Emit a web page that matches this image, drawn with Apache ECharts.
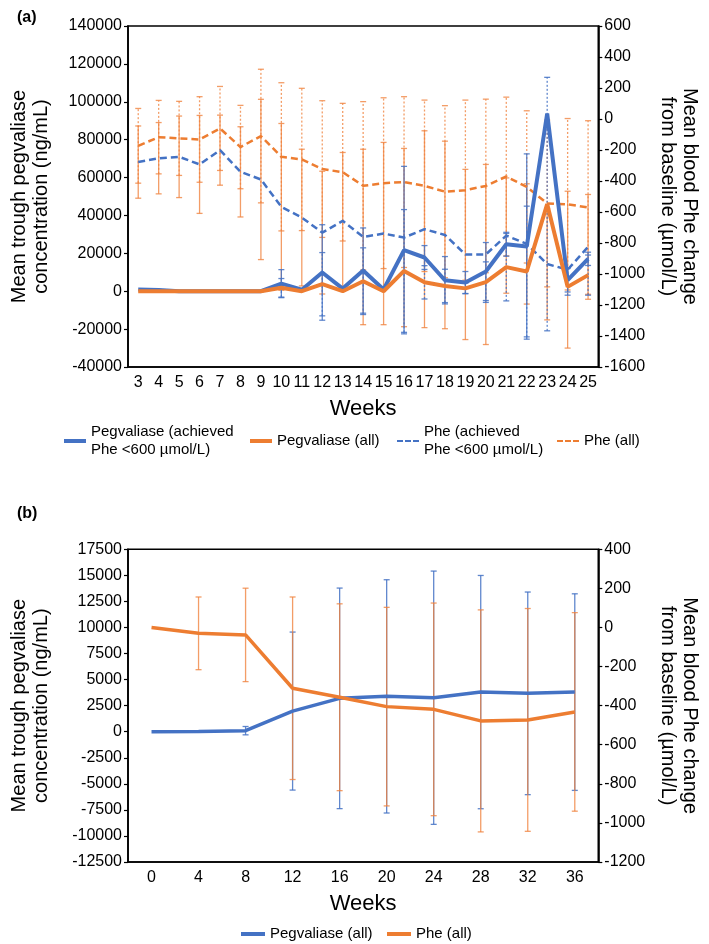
<!DOCTYPE html>
<html>
<head>
<meta charset="utf-8">
<script src="https://cdn.jsdelivr.net/npm/echarts/dist/echarts.min.js"></script>
<style>
  html, body { margin: 0; padding: 0; background: #fff; }
  #chart { width: 709px; height: 944px; }
</style>
</head>
<body>
<div id="chart"></div>
<script>
// ---------- Panel (a) data ----------
const weeksA = ['3','4','5','6','7','8','9','10','11','12','13','14','15','16','17','18','19','20','21','22','23','24','25'];
const pegAchievedA = [900, 700, 0, 0, 0, 0, 0, 4000, 800, 9900, 1400, 10900, 900, 21700, 17800, 5800, 4600, 10400, 24800, 23600, 93800, 5800, 17100];
const pegAllA      = [0, 0, 0, 0, 0, 0, 0, 1800, 0, 3700, 0, 5300, 0, 10700, 4700, 2800, 1500, 4800, 12700, 10400, 46000, 2300, 8500];
const pheAchievedA = [-278, -253, -244, -293, -201, -341, -390, -567, -636, -733, -657, -761, -739, -765, -711, -748, -874, -874, -752, -806, -936, -972, -825];
const pheAllA      = [-173, -117, -125, -132, -61, -181, -110, -244, -261, -323, -343, -431, -414, -407, -431, -469, -459, -432, -371, -438, -545, -550, -571];
// error amounts (SD) read from the whiskers
const pheAllSdA      = [241, 237, 239, 276, 271, 269, 431, 478, 459, 441, 444, 543, 551, 551, 553, 555, 581, 560, 512, 491, 538, 553, 560];
const pheAchievedSdA = [233, 230, 263, 316, 226, 291, 517, 538, 441, 396, 441, 566, 588, 575, 635, 605, 549, 581, 372, 388, 360, 506, 338];
const pegAchievedSdA = [0, 0, 0, 0, 0, 0, 0, 7400, 0, 25200, 0, 22500, 0, 44200, 6300, 12500, 5800, 15300, 6300, 48900, 0, 6200, 3500];
const pegAllSdA      = [0, 0, 0, 0, 0, 0, 0, 4900, 0, 16700, 0, 17600, 0, 32400, 8800, 8800, 2800, 10700, 17800, 34500, 66900, 4400, 10600];
const legendA = ['Pegvaliase (achieved\nPhe <600 µmol/L)', 'Pegvaliase (all)', 'Phe (achieved\nPhe <600 µmol/L)', 'Phe (all)'];

// ---------- Panel (b) data ----------
const weeksB = ['0','4','8','12','16','20','24','28','32','36'];
const pegB   = [0, 30, 100, 1980, 3200, 3390, 3260, 3800, 3680, 3800];
const pheB   = [0, -30, -38, -311, -357, -405, -419, -478, -473, -432];
const pegSdB = [0, 0, 400, 7580, 10580, 11190, 12150, 11190, 9720, 9430];
const pheSdB = [0, 186, 239, 467, 478, 508, 544, 568, 570, 508];
const legendB = ['Pegvaliase (all) ', 'Phe (all) '];

// ---------- tick ranges ----------
const leftA = { min: -40000, max: 140000, interval: 20000 };
const rightA = { min: -1600, max: 600, interval: 200 };
const leftB = { min: -12500, max: 17500, interval: 2500 };
const rightB = { min: -1200, max: 400, interval: 200 };

const BLUE = '#4472C4';
const ORANGE = '#ED7D31';
const ORANGE_BAR = 'rgba(240,130,60,0.78)';
const BLUE_BAR = 'rgba(68,114,196,0.85)';
const FONT = '"Liberation Sans", Arial, Helvetica, sans-serif';
const SOLID_ICON = 'rect';
const DASH_ICON = 'path://M0,0h6v2h-6zM8,0h6v2h-6zM16,0h6v2h-6z';

function errData(center, sd) {
  return center.map((c, i) => [i, c - sd[i], c + sd[i]]);
}
function errRender(color, dash, width, cap) {
  return function (params, api) {
    const x = api.value(0);
    const lo = api.coord([x, api.value(1)]);
    const hi = api.coord([x, api.value(2)]);
    if (Math.abs(hi[1] - lo[1]) < 0.5) return null;
    return {
      type: 'group',
      children: [
        { type: 'line', shape: { x1: lo[0], y1: lo[1], x2: hi[0], y2: hi[1] },
          style: { stroke: color, lineWidth: width, lineDash: dash } },
        { type: 'line', shape: { x1: lo[0] - cap, y1: lo[1], x2: lo[0] + cap, y2: lo[1] },
          style: { stroke: color, lineWidth: width } },
        { type: 'line', shape: { x1: hi[0] - cap, y1: hi[1], x2: hi[0] + cap, y2: hi[1] },
          style: { stroke: color, lineWidth: width } }
      ]
    };
  };
}
function errSeries(name, xi, yi, data, color, dash, width) {
  return {
    name: name, type: 'custom', xAxisIndex: xi, yAxisIndex: yi,
    renderItem: errRender(color, dash, width, 3), data: data,
    encode: { x: 0, y: [1, 2] }, silent: true, z: 1
  };
}

const axisCommonX = {
  type: 'category', boundaryGap: true,
  axisLine: { onZero: false, lineStyle: { color: '#000', width: 1.6 } },
  axisTick: { alignWithLabel: true, length: 4, lineStyle: { color: '#000', width: 1.2 } },
  axisLabel: { interval: 0, fontSize: 16, color: '#000', margin: 8, fontFamily: FONT },
  name: 'Weeks', nameLocation: 'middle',
  nameTextStyle: { fontSize: 22, color: '#000', fontFamily: FONT },
  splitLine: { show: false }
};
function yAxisDef(grid, range, pos, name, rot, gap) {
  return {
    type: 'value', gridIndex: grid, position: pos,
    min: range.min, max: range.max, interval: range.interval,
    axisLine: { show: true, onZero: false, lineStyle: { color: '#000', width: 1.6 } },
    axisTick: { show: true, length: 4, lineStyle: { color: '#000', width: 1.2 } },
    axisLabel: { fontSize: 16, color: '#000', margin: 6, fontFamily: FONT, formatter: v => String(v) },
    splitLine: { show: false },
    name: name, nameLocation: 'middle', nameRotate: rot, nameGap: gap,
    nameTextStyle: { fontSize: 20, lineHeight: 22, color: '#000', fontFamily: FONT, align: 'center' }
  };
}

const legendText = { fontSize: 15, lineHeight: 18, color: '#000', fontFamily: FONT };
const legendText2 = Object.assign({}, legendText, { padding: [18, 0, 0, 0] });
function legendItem(name, icon, color) {
  return { name: name, icon: icon, itemStyle: { color: color, borderWidth: 0 } };
}

const option = {
  animation: false,
  backgroundColor: '#fff',
  textStyle: { fontFamily: FONT },
  title: [
    { text: '(a)', left: 12, top: 5, textStyle: { fontSize: 16, fontWeight: 'bold', color: '#000', fontFamily: FONT } },
    { text: '(b)', left: 12, top: 501, textStyle: { fontSize: 16, fontWeight: 'bold', color: '#000', fontFamily: FONT } }
  ],
  grid: [
    { left: 122.7, right: 110.7, top: 26, height: 341, show: true, borderColor: '#000', borderWidth: 1.6, backgroundColor: 'transparent' },
    { left: 122.7, right: 110.7, top: 549.3, height: 312.7, show: true, borderColor: '#000', borderWidth: 1.6, backgroundColor: 'transparent' }
  ],
  xAxis: [
    Object.assign({}, axisCommonX, { gridIndex: 0, data: weeksA, nameGap: 31 }),
    Object.assign({}, axisCommonX, { gridIndex: 1, data: weeksB, nameGap: 31 })
  ],
  yAxis: [
    yAxisDef(0, leftA, 'left', 'Mean trough pegvaliase\nconcentration (ng/mL)', 90, 76),
    yAxisDef(0, rightA, 'right', 'Mean blood Phe change\nfrom baseline (µmol/L)', -90, 58),
    yAxisDef(1, leftB, 'left', 'Mean trough pegvaliase\nconcentration (ng/mL)', 90, 76),
    yAxisDef(1, rightB, 'right', 'Mean blood Phe change\nfrom baseline (µmol/L)', -90, 58)
  ],
  legend: [
    { data: [legendItem(legendA[0], SOLID_ICON, BLUE)], left: 64, top: 414, itemWidth: 22, itemHeight: 4, padding: 0, textStyle: legendText2, selectedMode: false },
    { data: [legendItem(legendA[1], SOLID_ICON, ORANGE)], left: 250, top: 432, itemWidth: 22, itemHeight: 4, padding: 0, textStyle: legendText, selectedMode: false },
    { data: [legendItem(legendA[2], DASH_ICON, BLUE)], left: 397, top: 414, itemWidth: 22, itemHeight: 2.5, padding: 0, textStyle: legendText2, selectedMode: false },
    { data: [legendItem(legendA[3], DASH_ICON, ORANGE)], left: 557, top: 432, itemWidth: 22, itemHeight: 2.5, padding: 0, textStyle: legendText, selectedMode: false },
    { data: [legendItem(legendB[0], SOLID_ICON, BLUE)], left: 241, top: 925, itemWidth: 24, itemHeight: 4, padding: 0, textStyle: legendText, selectedMode: false },
    { data: [legendItem(legendB[1], SOLID_ICON, ORANGE)], left: 387, top: 925, itemWidth: 24, itemHeight: 4, padding: 0, textStyle: legendText, selectedMode: false }
  ],
  series: [
    // panel (a) error bars
    errSeries('errPheAll', 0, 1, errData(pheAllA, pheAllSdA), ORANGE_BAR, [2, 2], 1.3),
    errSeries('errPheAch', 0, 1, errData(pheAchievedA, pheAchievedSdA), ORANGE_BAR, null, 1.3),
    errSeries('errPegAll', 0, 0, errData(pegAllA, pegAllSdA), BLUE_BAR, [2, 2], 1.3),
    errSeries('errPegAch', 0, 0, errData(pegAchievedA, pegAchievedSdA), BLUE_BAR, null, 1.3),
    // panel (a) lines
    { name: legendA[3], type: 'line', xAxisIndex: 0, yAxisIndex: 1, data: pheAllA, symbol: 'none',
      lineStyle: { color: ORANGE, width: 2.5, type: [7, 4] }, itemStyle: { color: ORANGE }, z: 3 },
    { name: legendA[2], type: 'line', xAxisIndex: 0, yAxisIndex: 1, data: pheAchievedA, symbol: 'none',
      lineStyle: { color: BLUE, width: 2.5, type: [7, 4] }, itemStyle: { color: BLUE }, z: 3 },
    { name: legendA[0], type: 'line', xAxisIndex: 0, yAxisIndex: 0, data: pegAchievedA, symbol: 'none',
      lineStyle: { color: BLUE, width: 4 }, itemStyle: { color: BLUE }, z: 4 },
    { name: legendA[1], type: 'line', xAxisIndex: 0, yAxisIndex: 0, data: pegAllA, symbol: 'none',
      lineStyle: { color: ORANGE, width: 4 }, itemStyle: { color: ORANGE }, z: 4 },
    // panel (b) error bars
    errSeries('errPegB', 1, 2, errData(pegB, pegSdB), BLUE_BAR, null, 1.3),
    errSeries('errPheB', 1, 3, errData(pheB, pheSdB), ORANGE_BAR, null, 1.3),
    // panel (b) lines
    { name: legendB[0], type: 'line', xAxisIndex: 1, yAxisIndex: 2, data: pegB, symbol: 'none',
      lineStyle: { color: BLUE, width: 3.5 }, itemStyle: { color: BLUE }, z: 4 },
    { name: legendB[1], type: 'line', xAxisIndex: 1, yAxisIndex: 3, data: pheB, symbol: 'none',
      lineStyle: { color: ORANGE, width: 3.5 }, itemStyle: { color: ORANGE }, z: 4 }
  ]
};

const chart = echarts.init(document.getElementById('chart'), null, { renderer: 'canvas' });
chart.setOption(option);
</script>
</body>
</html>
